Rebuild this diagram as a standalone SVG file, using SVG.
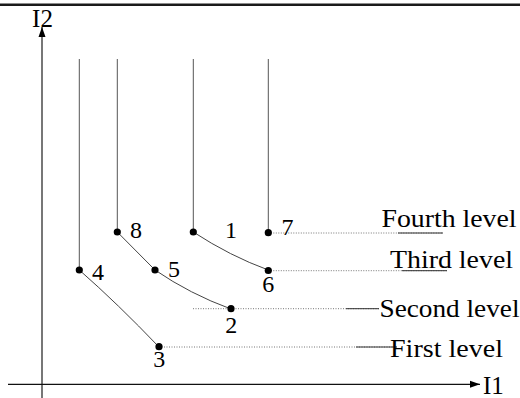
<svg xmlns="http://www.w3.org/2000/svg" width="520" height="398" viewBox="0 0 520 398">
  <style>
    .drop { stroke: #555; stroke-width: 1; fill: none; }
    .curve { stroke: #444; stroke-width: 1; fill: none; }
    .dot-line { stroke: #777; stroke-width: 1; stroke-dasharray: 1 1.5; fill: none; }
    .tail { stroke: #333; stroke-width: 1; fill: none; }
    .pt { fill: #000; }
  </style>
  <defs>
    <marker id="arrowX" markerWidth="10" markerHeight="8" refX="10" refY="4" orient="auto" markerUnits="userSpaceOnUse">
      <path d="M0,0.5 L10,4 L0,7.5 Z" fill="#000"/>
    </marker>
    <marker id="arrowY" markerWidth="10" markerHeight="8" refX="10" refY="4" orient="auto" markerUnits="userSpaceOnUse">
      <path d="M0,0.5 L10,4 L0,7.5 Z" fill="#000"/>
    </marker>
  </defs>

  <rect width="520" height="398" fill="#fff"/>

  <!-- top rule -->
  <line x1="0" y1="4.8" x2="520" y2="4.8" stroke="#1a1a1a" stroke-width="2.6"/>

  <g font-family="Liberation Serif, Times New Roman, serif" fill="#000">
    <!-- axes -->
    <g id="axes" font-size="25">
      <line x1="42" y1="398" x2="42" y2="27" stroke="#777" stroke-width="2" marker-end="url(#arrowY)"/>
      <line x1="8" y1="384.3" x2="480" y2="384.3" stroke="#111" stroke-width="1.2" marker-end="url(#arrowX)"/>
      <text x="42.5" y="26.5" text-anchor="middle">I2</text>
      <text x="483" y="394">I1</text>
    </g>

    <!-- connectors: drop lines, curves, level guides -->
    <g id="connectors">
      <line class="drop" x1="79.3" y1="59" x2="79.3" y2="270"/>
      <line class="drop" x1="117.3" y1="59" x2="117.3" y2="232"/>
      <line class="drop" x1="193.3" y1="59" x2="193.3" y2="232"/>
      <line class="drop" x1="268.3" y1="59" x2="268.3" y2="232"/>

      <path class="curve" d="M79.3,270 Q118,304 159,347"/>
      <path class="curve" d="M117.3,232 L155,270"/>
      <path class="curve" d="M155,270 Q190,294 231,309"/>
      <path class="curve" d="M193.3,232 Q230,256 268.3,270"/>

      <line class="dot-line" x1="268.3" y1="233" x2="443" y2="233"/>
      <line class="tail" x1="398" y1="233" x2="443" y2="233"/>
      <line class="dot-line" x1="268.3" y1="270.7" x2="447" y2="270.7"/>
      <line class="tail" x1="402" y1="270.7" x2="447" y2="270.7"/>
      <line class="dot-line" x1="193" y1="308.7" x2="379" y2="308.7"/>
      <line class="tail" x1="346" y1="308.7" x2="379" y2="308.7"/>
      <line class="dot-line" x1="159" y1="347" x2="397" y2="347"/>
      <line class="tail" x1="356" y1="347" x2="397" y2="347"/>
    </g>

    <!-- points -->
    <g font-size="24">
      <g id="p1"><circle class="pt" cx="193.3" cy="232" r="3.6"/><text x="225" y="238">1</text></g>
      <g id="p2"><circle class="pt" cx="231" cy="308.7" r="3.6"/><text x="231.3" y="332.5" text-anchor="middle">2</text></g>
      <g id="p3"><circle class="pt" cx="159" cy="346.7" r="3.6"/><text x="159.3" y="366.5" text-anchor="middle">3</text></g>
      <g id="p4"><circle class="pt" cx="79.3" cy="270" r="3.6"/><text x="92" y="280">4</text></g>
      <g id="p5"><circle class="pt" cx="155" cy="270" r="3.6"/><text x="168" y="276.5">5</text></g>
      <g id="p6"><circle class="pt" cx="268.3" cy="270.5" r="3.6"/><text x="268.3" y="291.5" text-anchor="middle">6</text></g>
      <g id="p7"><circle class="pt" cx="268.3" cy="232.7" r="3.6"/><text x="281.5" y="234.5">7</text></g>
      <g id="p8"><circle class="pt" cx="117.3" cy="232" r="3.6"/><text x="130" y="238.3">8</text></g>
    </g>

    <!-- level captions -->
    <g id="levels" font-size="25">
      <text x="381.5" y="227" textLength="135" lengthAdjust="spacingAndGlyphs">Fourth level</text>
      <text x="390" y="268.3" textLength="123" lengthAdjust="spacingAndGlyphs">Third level</text>
      <text x="379.5" y="317.3" textLength="140" lengthAdjust="spacingAndGlyphs">Second level</text>
      <text x="390" y="356.7" textLength="113" lengthAdjust="spacingAndGlyphs">First level</text>
    </g>
  </g>
</svg>
